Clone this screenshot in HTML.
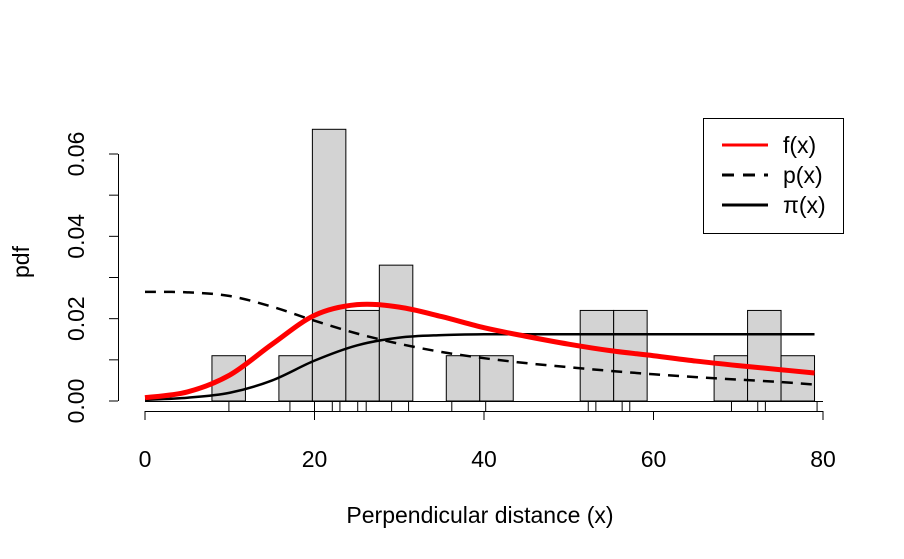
<!DOCTYPE html>
<html><head><meta charset="utf-8"><style>
html,body{margin:0;padding:0;background:#fff;}
svg{display:block;font-family:"Liberation Sans",sans-serif;}
</style></head><body>
<svg id="c" width="904" height="559" viewBox="0 0 904 559">
<g id="bars"></g>
<g id="curves"></g>
<g id="rug"></g>
<g id="axes"></g>
<text x="480" y="523" font-size="23" text-anchor="middle">Perpendicular distance (x)</text>
<text transform="translate(29,262) rotate(-90)" font-size="23" text-anchor="middle">pdf</text>
<g>
<rect x="703.5" y="118.5" width="140" height="115" fill="#fff" stroke="#000"/>
<line x1="722" y1="145" x2="768" y2="145" stroke="red" stroke-width="3"/>
<line x1="722" y1="175" x2="768" y2="175" stroke="#000" stroke-width="3" stroke-dasharray="12,9"/>
<line x1="722" y1="205" x2="768" y2="205" stroke="#000" stroke-width="3"/>
<text x="783" y="153" font-size="23">f(x)</text>
<text x="783" y="183" font-size="23">p(x)</text>
<text x="783" y="213" font-size="23">π(x)</text>
</g>
</svg>
<script>
const binWidth = 3.95;
const binDensity = [0,0,0.011,0,0.011,0.066,0.022,0.033,0,0.011,0.011,0,0,0.022,0.022,0,0,0.011,0.022,0.011];
const rugValues = [9.9,17.1,20.0,22.1,23.0,25.1,26.1,29.1,31.1,36.2,40.2,52.3,53.2,56.3,57.2,69.2,72.3,73.2,79.3];
const curveX = [0,5,10,15,20,25,30,35,40,45,50,55,60,65,70,75,79];
const fValues = [0.0008,0.0022,0.0063,0.0138,0.0208,0.0234,0.0228,0.0205,0.0178,0.0157,0.0138,0.0122,0.011,0.0097,0.0086,0.0076,0.0068];
const pValues = [0.0265,0.0264,0.0255,0.0229,0.0195,0.0164,0.0139,0.0119,0.0104,0.0092,0.0082,0.0073,0.0065,0.0058,0.0052,0.0046,0.0040];
const piValues = [0.0003,0.0008,0.002,0.005,0.0098,0.0135,0.0154,0.016,0.0162,0.0162,0.0162,0.0162,0.0162,0.0162,0.0162,0.0162,0.0162];
const xTicks = [0,20,40,60,80];
const yTicks = [0,0.01,0.02,0.03,0.04,0.05,0.06];
const yLabels = ["0.00","","0.02","","0.04","","0.06"];

const NS="http://www.w3.org/2000/svg";
const sx=v=>145+v*(823-145)/80;
const sy=v=>401-v*(401-154)/0.06;
function mk(tag,attrs,parent){const e=document.createElementNS(NS,tag);for(const k in attrs)e.setAttribute(k,attrs[k]);parent.appendChild(e);return e;}
const bars=document.getElementById('bars');
binDensity.forEach((d,i)=>{ if(d<=0) return;
  const x0=sx(i*binWidth), x1=sx((i+1)*binWidth);
  const r=mk('rect',{x:x0,y:sy(d),width:x1-x0,height:sy(0)-sy(d),fill:'#d3d3d3',stroke:'#000','stroke-width':1},bars);
  
  
});
const curves=document.getElementById('curves');
function path(vals,style,name){
  const P=curveX.map((x,i)=>[sx(x),sy(vals[i])]);
  let d='M'+P[0][0]+','+P[0][1];
  for(let i=0;i<P.length-1;i++){
    const p0=P[Math.max(0,i-1)],p1=P[i],p2=P[i+1],p3=P[Math.min(P.length-1,i+2)];
    const c1=[p1[0]+(p2[0]-p0[0])/6,p1[1]+(p2[1]-p0[1])/6];
    const c2=[p2[0]-(p3[0]-p1[0])/6,p2[1]-(p3[1]-p1[1])/6];
    d+=' C'+c1+' '+c2+' '+p2;
  }
  const e=mk('path',Object.assign({d:d,fill:'none'},style),curves);
  
  
}
path(pValues,{stroke:'#000','stroke-width':2.5,'stroke-dasharray':'11,8'},'p-curve');
path(piValues,{stroke:'#000','stroke-width':2.5},'pi-curve');
path(fValues,{stroke:'red','stroke-width':5},'f-curve');
const rug=document.getElementById('rug');
rugValues.forEach(v=>{
  const l=mk('line',{x1:sx(v),x2:sx(v),y1:401,y2:411,stroke:'#000','stroke-width':1},rug);
  
  
});
const axes=document.getElementById('axes');
const base=mk('line',{x1:sx(0),x2:sx(80),y1:401.5,y2:401.5,stroke:'#000'},axes);


const xa=mk('line',{x1:sx(0),x2:sx(80),y1:411.5,y2:411.5,stroke:'#000'},axes);


xTicks.forEach(t=>{
  const l=mk('line',{x1:sx(t),x2:sx(t),y1:411,y2:420,stroke:'#000'},axes);
  
  
  const tx=mk('text',{x:sx(t),y:467,'font-size':23,'text-anchor':'middle'},axes);
  tx.textContent=t;
  
  
});
const ya=mk('line',{x1:118.5,x2:118.5,y1:sy(0),y2:sy(0.06),stroke:'#000'},axes);


yTicks.forEach((t,i)=>{
  const l=mk('line',{x1:109,x2:118,y1:sy(t),y2:sy(t),stroke:'#000'},axes);
  
  
  if(yLabels[i]){
    const tx=mk('text',{transform:'translate(84,'+sy(t)+') rotate(-90)','font-size':23,'text-anchor':'middle'},axes);
    tx.textContent=yLabels[i];
    
    
  }
});
</script>
</body></html>
